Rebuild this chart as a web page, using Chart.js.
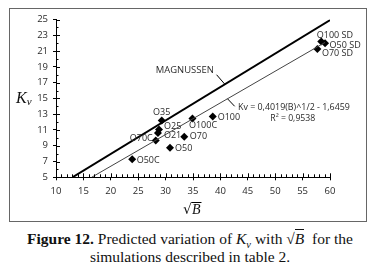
<!DOCTYPE html>
<html>
<head>
<meta charset="utf-8">
<script src="https://cdn.jsdelivr.net/npm/chart.js@4"></script>
<style>
  body { margin: 0; background: #fff; width: 374px; height: 276px; overflow: hidden; position: relative; }
  .fig-box { position: absolute; left: 9px; top: 8px; width: 356px; height: 212px; border: 1.5px solid #666; }
  .chart-wrap { position: absolute; left: 0; top: 0; width: 374px; height: 226px; }
  .caption { position: absolute; left: 3px; top: 230px; width: 374px; text-align: center; font-family: "Liberation Serif", "Times New Roman", serif; font-size: 15.5px; line-height: 18px; color: #111; white-space: nowrap; }
  .caption b { font-weight: bold; }
  .caption sub { font-size: 10.5px; line-height: 0; }
  .ov { border-top: 1px solid #111; }
</style>
</head>
<body>
<div class="fig-box"></div>
<div class="chart-wrap"><canvas id="kv-chart" width="374" height="226"></canvas></div>
<div class="caption"><b>Figure 12.</b> Predicted variation of <i>K<sub>v</sub></i> with √<span class="ov"><i>B</i></span>&nbsp; for the<br>simulations described in table 2.</div>
<script>
// simulations: sqrt(B) vs Kv
const simNames = ['O35', 'O25', 'O21', 'O70C', 'O50C', 'O50', 'O70', 'O100C', 'O100', 'O100 SD', 'O50 SD', 'O70 SD']
const sqrtB = [29.3, 28.8, 28.6, 28.2, 23.9, 30.8, 33.4, 34.9, 38.6, 58.4, 59.1, 57.7]
const kvValues = [12.2, 11.05, 10.6, 9.65, 7.3, 8.75, 10.15, 12.45, 12.7, 22.2, 22.0, 21.25]

// Magnussen line and fitted trend line (end points)
const magnussenX = [13.0, 60.2]
const magnussenY = [5, 25]
const trendX = [16.5, 59.1]
const trendY = [5, 22.1]

const xTicks = [10, 15, 20, 25, 30, 35, 40, 45, 50, 55, 60]
const yTicks = [5, 7, 9, 11, 13, 15, 17, 19, 21, 23, 25]

const trendEquation = 'Kv = 0,4019(B)^1/2 - 1,6459'
const trendR2 = 'R² = 0,9538'

// label offsets from each point [dx, dy, align]
const labelOffsets = [
  [0, -8, 'center'], [5, -3, 'left'], [6, 2, 'left'], [-3, -2, 'right'],
  [4.5, 1.5, 'left'], [5, 0.5, 'left'], [5.5, 0, 'left'], [-3.5, 7, 'left'],
  [5, 0.5, 'left'], [-4.5, -6.5, 'left'], [4.5, 2.5, 'left'], [4.5, 4, 'left']
]

const toPoints = (xs, ys) => xs.map((x, i) => ({ x: x, y: ys[i] }))

const labelFont = '9px "Open Sans", sans-serif'
const textColor = '#2a2a2a'

const extrasPlugin = {
  id: 'extras',
  afterDraw(chart) {
    const ctx = chart.ctx
    const xs = chart.scales.x
    const ys = chart.scales.y
    const area = chart.chartArea
    ctx.save()
    ctx.strokeStyle = '#000'
    ctx.lineWidth = 1
    ctx.beginPath()
    // inner half of major ticks + minor ticks
    for (let v = 10; v <= 60; v++) {
      const px = Math.round(xs.getPixelForValue(v)) + 0.5
      const len = v % 5 === 0 ? 4 : 3
      ctx.moveTo(px, area.bottom)
      ctx.lineTo(px, area.bottom - len)
    }
    for (let v = 5; v <= 25; v++) {
      const py = Math.round(ys.getPixelForValue(v)) + 0.5
      const len = v % 2 === 1 ? 4 : 2.5
      ctx.moveTo(area.left, py)
      ctx.lineTo(area.left + len, py)
    }
    ctx.stroke()

    // point labels
    const meta = chart.getDatasetMeta(2)
    ctx.font = labelFont
    ctx.fillStyle = textColor
    ctx.textBaseline = 'middle'
    meta.data.forEach((pt, i) => {
      const off = labelOffsets[i]
      ctx.textAlign = off[2]
      ctx.fillText(simNames[i], pt.x + off[0], pt.y + off[1])
    })

    // MAGNUSSEN annotation
    ctx.textAlign = 'left'
    ctx.font = '9.5px "Open Sans", sans-serif'
    ctx.fillText('MAGNUSSEN', xs.getPixelForValue(28.2), ys.getPixelForValue(18.5), 58)
    ctx.beginPath()
    ctx.moveTo(xs.getPixelForValue(39.3), ys.getPixelForValue(18.0))
    ctx.lineTo(xs.getPixelForValue(40.8), ys.getPixelForValue(16.8))
    ctx.stroke()

    // trend equation
    ctx.font = '9px "Open Sans", sans-serif'
    ctx.fillText(trendEquation, xs.getPixelForValue(43.2), ys.getPixelForValue(13.9), 112)
    ctx.fillText(trendR2, xs.getPixelForValue(49.1), ys.getPixelForValue(12.4), 45)
    ctx.beginPath()
    ctx.moveTo(xs.getPixelForValue(41.3), ys.getPixelForValue(14.95))
    ctx.lineTo(xs.getPixelForValue(42.6), ys.getPixelForValue(14.0))
    ctx.stroke()

    // axis titles
    ctx.fillStyle = '#111'
    ctx.textBaseline = 'alphabetic'
    const ky = ys.getPixelForValue(15) + 5
    ctx.font = 'italic 16px "Liberation Serif", serif'
    ctx.fillText('K', 16, ky)
    const kw = ctx.measureText('K').width
    ctx.font = 'italic 11px "Liberation Serif", serif'
    ctx.fillText('v', 16 + kw, ky + 2)

    const bx = (area.left + area.right) / 2 - 10
    const by = 214
    ctx.font = '14px "DejaVu Serif", serif'
    ctx.fillText('√', bx, by)
    const rw = ctx.measureText('√').width
    ctx.font = 'italic 14px "Liberation Serif", serif'
    ctx.fillText('B', bx + rw, by)
    const bw = ctx.measureText('B').width
    ctx.beginPath()
    ctx.moveTo(bx + rw - 0.5, by - 11.5)
    ctx.lineTo(bx + rw + bw + 1, by - 11.5)
    ctx.stroke()
    ctx.restore()
  }
}

const config = {
  type: 'scatter',
  data: {
    datasets: [
      {
        label: 'Magnussen',
        data: toPoints(magnussenX, magnussenY),
        showLine: true,
        borderColor: '#000',
        borderWidth: 2,
        pointRadius: 0
      },
      {
        label: 'Trend',
        data: toPoints(trendX, trendY),
        showLine: true,
        borderColor: '#444',
        borderWidth: 1,
        pointRadius: 0
      },
      {
        label: 'Simulations',
        data: toPoints(sqrtB, kvValues),
        pointStyle: 'rectRot',
        pointRadius: 4,
        backgroundColor: '#000',
        borderColor: '#000',
        borderWidth: 0
      }
    ]
  },
  options: {
    responsive: false,
    animation: false,
    events: [],
    layout: { padding: { left: 0, right: 44, top: 19.5, bottom: 0 } },
    plugins: { legend: { display: false }, tooltip: { enabled: false } },
    scales: {
      x: {
        type: 'linear',
        min: 10,
        max: 60,
        afterBuildTicks: (scale) => { scale.ticks = xTicks.map(v => ({ value: v })) },
        afterFit: (scale) => { scale.height = 48.7 },
        border: { color: '#000', width: 1 },
        grid: { drawOnChartArea: false, color: '#000', tickLength: 3 },
        ticks: { color: textColor, padding: 5, font: { family: '"Open Sans", sans-serif', size: 9.5 }, maxRotation: 0 }
      },
      y: {
        type: 'linear',
        min: 5,
        max: 25,
        afterBuildTicks: (scale) => { scale.ticks = yTicks.map(v => ({ value: v })) },
        afterFit: (scale) => { scale.width = 56 },
        border: { color: '#000', width: 1 },
        grid: { drawOnChartArea: false, color: '#000', tickLength: 3 },
        ticks: { color: textColor, padding: 5, font: { family: '"Open Sans", sans-serif', size: 9.5 } }
      }
    }
  },
  plugins: [extrasPlugin]
}

const myChart = new Chart(document.getElementById('kv-chart'), config)
</script>
</body>
</html>
